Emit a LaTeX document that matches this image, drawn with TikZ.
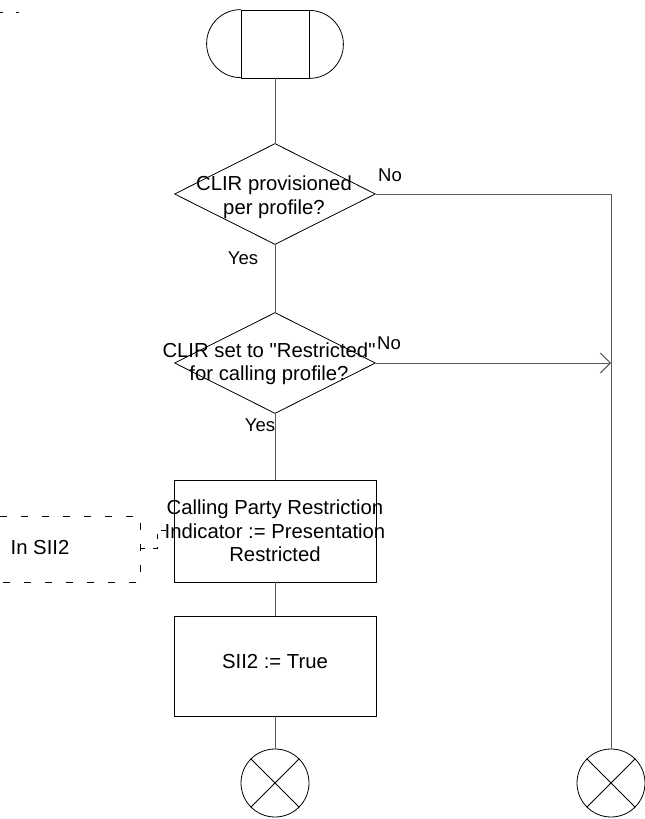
\documentclass[tikz,border=0pt]{standalone}
\usepackage{fontspec}
\setmainfont{Liberation Sans}[Ligatures=TeXOff]
\usetikzlibrary{shapes.geometric,arrows.meta}
\begin{document}
\begin{tikzpicture}[x=1pt,y=-1pt,
  shp/.style={draw=black,line width=0.8pt},
  conn/.style={draw=black!65,line width=1pt},
  txt/.style={inner sep=0pt,align=center,font=\fontsize{20.3}{23.5}\selectfont},
  lbl/.style={inner sep=0pt,font=\fontsize{18.5}{21}\selectfont},
  dia/.style={shp,diamond,inner sep=0pt,minimum width=201pt,minimum height=101pt},
  boxn/.style={shp,rectangle,inner sep=0pt,minimum width=202pt},
  endc/.style={shp,circle,inner sep=0pt,minimum size=68pt},
  cmt/.style={draw=black,line width=0.8pt,dash pattern=on 7pt off 14pt}
]
\useasboundingbox (0,0) rectangle (645,819);

% top-left fragment
\coordinate (tl1) at (0,12);
\coordinate (tl2) at (22,12);
\draw[cmt,dash pattern=on 3pt off 13pt] (tl1) -- (tl2);

% start terminal
\node[shp,rectangle,inner sep=0pt,minimum width=68pt,minimum height=68pt] (start) at (275,44) {};
\draw[shp] (start.north west) arc[start angle=90,end angle=270,radius=34pt];
\draw[shp] (start.south east) arc[start angle=-90,end angle=90,radius=34pt];

% decisions
\node[dia] (d1) at (275,194) {};
\node[txt] (t1) at (274,197) {CLIR provisioned\\per profile?};
\node[lbl] (no1) at (390,175) {No};
\node[lbl] (yes1) at (243,258.5) {Yes};

\node[dia] (d2) at (275,363) {};
\node[txt] (t2) at (269,363.5) {CLIR set to "Restricted"\\for calling profile?};
\node[lbl] (no2) at (389,343) {No};
\node[lbl] (yes2) at (260,425.5) {Yes};

% tasks
\node[boxn,minimum height=102pt] (b1) at (275,531) {};
\node[txt] (t3) at (275,531) {Calling Party Restriction\\Indicator := Presentation\\Restricted};
\node[boxn,minimum height=100pt] (b2) at (275,666) {};
\node[txt] (t4) at (275,662) {SII2 := True};

% ends
\node[endc] (e1) at (275,783) {};
\draw[shp] (e1.45) -- (e1.225) (e1.135) -- (e1.-45);
\node[endc] (e2) at (611,783) {};
\draw[shp] (e2.45) -- (e2.225) (e2.135) -- (e2.-45);

% comment
\coordinate (c1) at (0,516);
\coordinate (c2) at (140,516);
\coordinate (c3) at (140,582);
\coordinate (c4) at (0,582);
\draw[cmt] (c1) -- (c2) -- (c3) -- (c4);
\node[txt] (cm) at (40,548) {In SII2};
\coordinate (cc) at (140,548);
\draw[cmt,dash pattern=on 5pt off 8pt] (cc) -- (157,548) -- (157,530) -- (b1.west |- 0,530);

% connectors
\draw[conn] (start.south) -- (d1.north);
\draw[conn] (d1.south) -- (d2.north);
\draw[conn] (d2.south) -- (b1.north);
\draw[conn] (b1.south) -- (b2.north);
\draw[conn] (b2.south) -- (e1.north);
\draw[conn] (d1.east) -| (e2.north);
\draw[conn,-{Straight Barb[length=10pt,width=20pt,line width=1pt]}] (d2.east) -- (d2.east -| e2.north);
\end{tikzpicture}
\end{document}
